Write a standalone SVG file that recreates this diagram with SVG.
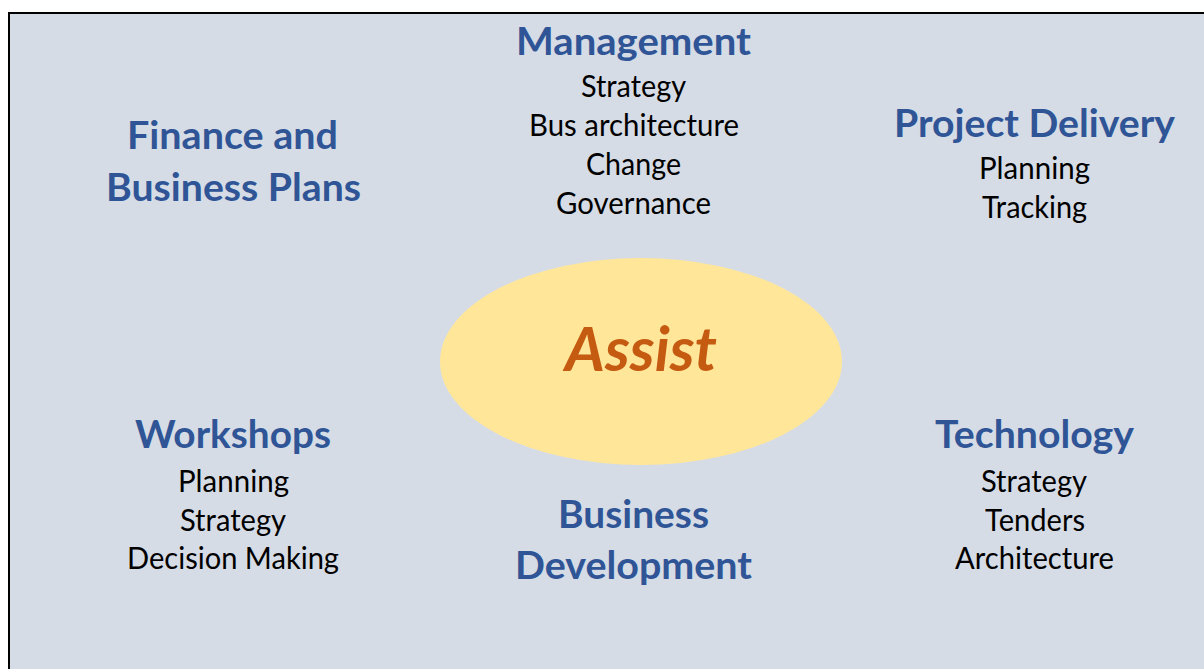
<svg xmlns="http://www.w3.org/2000/svg" width="1204" height="669" viewBox="0 0 1204 669">
<style>
.h{font-family:Lato,"Open Sans","Liberation Sans",sans-serif;font-weight:bold;font-size:39px;fill:#2F5597;text-anchor:middle}
.b{font-family:Lato,"Open Sans","Liberation Sans",sans-serif;font-size:31px;fill:#000;text-anchor:middle}
.a{font-family:Lato,"Open Sans","Liberation Sans",sans-serif;font-weight:bold;font-style:italic;font-size:61px;fill:#C55A11;text-anchor:middle}
</style>
<rect width="1204" height="669" fill="#fff"/>
<rect x="9" y="13" width="1210" height="680" fill="#D6DCE5" stroke="#000" stroke-width="2"/>
<g id="assist">
<ellipse cx="641" cy="361.5" rx="201" ry="103.5" fill="#FFE699"/>
<text class="a" x="641" y="371" textLength="152" lengthAdjust="spacingAndGlyphs">Assist</text>
</g>
<g id="management">
<text class="h" x="633.5" y="55" textLength="235" lengthAdjust="spacingAndGlyphs">Management</text>
<text class="b" x="633.5" y="97" textLength="105" lengthAdjust="spacingAndGlyphs">Strategy</text>
<text class="b" x="634" y="136" textLength="210" lengthAdjust="spacingAndGlyphs">Bus architecture</text>
<text class="b" x="633.5" y="175" textLength="95" lengthAdjust="spacingAndGlyphs">Change</text>
<text class="b" x="633.5" y="214" textLength="155" lengthAdjust="spacingAndGlyphs">Governance</text>
</g>
<g id="finance">
<text class="h" x="232.5" y="149" textLength="211" lengthAdjust="spacingAndGlyphs">Finance and</text>
<text class="h" x="233.5" y="201" textLength="255" lengthAdjust="spacingAndGlyphs">Business Plans</text>
</g>
<g id="project-delivery">
<text class="h" x="1034.5" y="137" textLength="281" lengthAdjust="spacingAndGlyphs">Project Delivery</text>
<text class="b" x="1034.5" y="179" textLength="111" lengthAdjust="spacingAndGlyphs">Planning</text>
<text class="b" x="1034.5" y="218" textLength="105" lengthAdjust="spacingAndGlyphs">Tracking</text>
</g>
<g id="workshops">
<text class="h" x="233" y="448" textLength="196" lengthAdjust="spacingAndGlyphs">Workshops</text>
<text class="b" x="233.5" y="492" textLength="111" lengthAdjust="spacingAndGlyphs">Planning</text>
<text class="b" x="233" y="531" textLength="106" lengthAdjust="spacingAndGlyphs">Strategy</text>
<text class="b" x="233" y="569" textLength="212" lengthAdjust="spacingAndGlyphs">Decision Making</text>
</g>
<g id="business-development">
<text class="h" x="633.5" y="528" textLength="151" lengthAdjust="spacingAndGlyphs">Business</text>
<text class="h" x="633.5" y="579" textLength="237" lengthAdjust="spacingAndGlyphs">Development</text>
</g>
<g id="technology">
<text class="h" x="1034.5" y="448" textLength="199" lengthAdjust="spacingAndGlyphs">Technology</text>
<text class="b" x="1034" y="492" textLength="106" lengthAdjust="spacingAndGlyphs">Strategy</text>
<text class="b" x="1035" y="531" textLength="100" lengthAdjust="spacingAndGlyphs">Tenders</text>
<text class="b" x="1034.5" y="569" textLength="159" lengthAdjust="spacingAndGlyphs">Architecture</text>
</g>
<g id="connectors"/>
</svg>
